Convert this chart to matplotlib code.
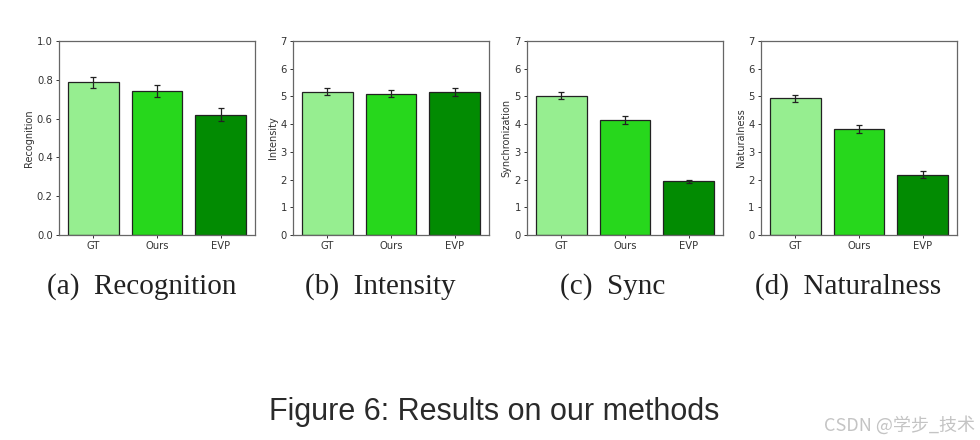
import matplotlib
matplotlib.use("Agg")
import matplotlib.pyplot as plt
import numpy as np

methods = ["GT", "Ours", "EVP"]
bar_colors = ["#96EE90", "#27D71C", "#028B02"]

recognition = [0.786, 0.743, 0.619]
recognition_err = [0.030, 0.032, 0.034]
intensity = [5.17, 5.10, 5.15]
intensity_err = [0.13, 0.12, 0.14]
synchronization = [5.02, 4.14, 1.93]
synchronization_err = [0.13, 0.14, 0.07]
naturalness = [4.93, 3.81, 2.18]
naturalness_err = [0.13, 0.14, 0.11]

ylabels = ["Recognition", "Intensity", "Synchronization", "Naturalness"]
subcaptions = ["(a)  Recognition", "(b)  Intensity", "(c)  Sync", "(d)  Naturalness"]
yticks_sets = [[0.0, 0.2, 0.4, 0.6, 0.8, 1.0], list(range(8)), list(range(8)), list(range(8))]
ylims = [(0, 1.0), (0, 7), (0, 7), (0, 7)]
values = [recognition, intensity, synchronization, naturalness]
errors = [recognition_err, intensity_err, synchronization_err, naturalness_err]

fig = plt.figure(figsize=(9.8, 4.4), dpi=100)
lefts = [0.0602, 0.299, 0.5378, 0.7765]
caption_x = [142, 380, 613, 848]

for i in range(4):
    ax = fig.add_axes([lefts[i], 0.466, 0.2, 0.441])
    x = np.arange(len(methods))
    ax.bar(x, values[i], width=0.8, color=bar_colors, edgecolor="#222222", linewidth=0.9,
           yerr=errors[i], capsize=2.2, error_kw=dict(elinewidth=0.9, capthick=0.9, ecolor="#222222"))
    ax.set_xticks(x)
    ax.set_xticklabels(methods)
    ax.set_ylim(*ylims[i])
    ax.set_yticks(yticks_sets[i])
    if i == 0:
        ax.set_yticklabels([f"{t:.1f}" for t in yticks_sets[i]])
    ax.set_ylabel(ylabels[i], fontsize=7, color="#333333", labelpad=2)
    ax.tick_params(labelsize=7.2, length=2.5, width=0.7, colors="#333333", pad=2)
    for s in ax.spines.values():
        s.set_color("#666666")
        s.set_linewidth(0.9)
    fig.text(caption_x[i] / 980, 1 - 294 / 440, subcaptions[i], ha="center", va="baseline",
             fontsize=21, family="Liberation Serif", color="#222222")

fig.text(494 / 980, 1 - 420 / 440, "Figure 6: Results on our methods", ha="center", va="baseline",
         fontsize=22, family="Liberation Sans", color="#2a2a2a")
fig.text(975 / 980, 1 - 431 / 440, "CSDN @学步_技术", ha="right", va="baseline",
         fontsize=13, family=["Noto Sans CJK SC", "DejaVu Sans"], color="#C4C4C4")

fig.savefig("out.png", dpi=100)
